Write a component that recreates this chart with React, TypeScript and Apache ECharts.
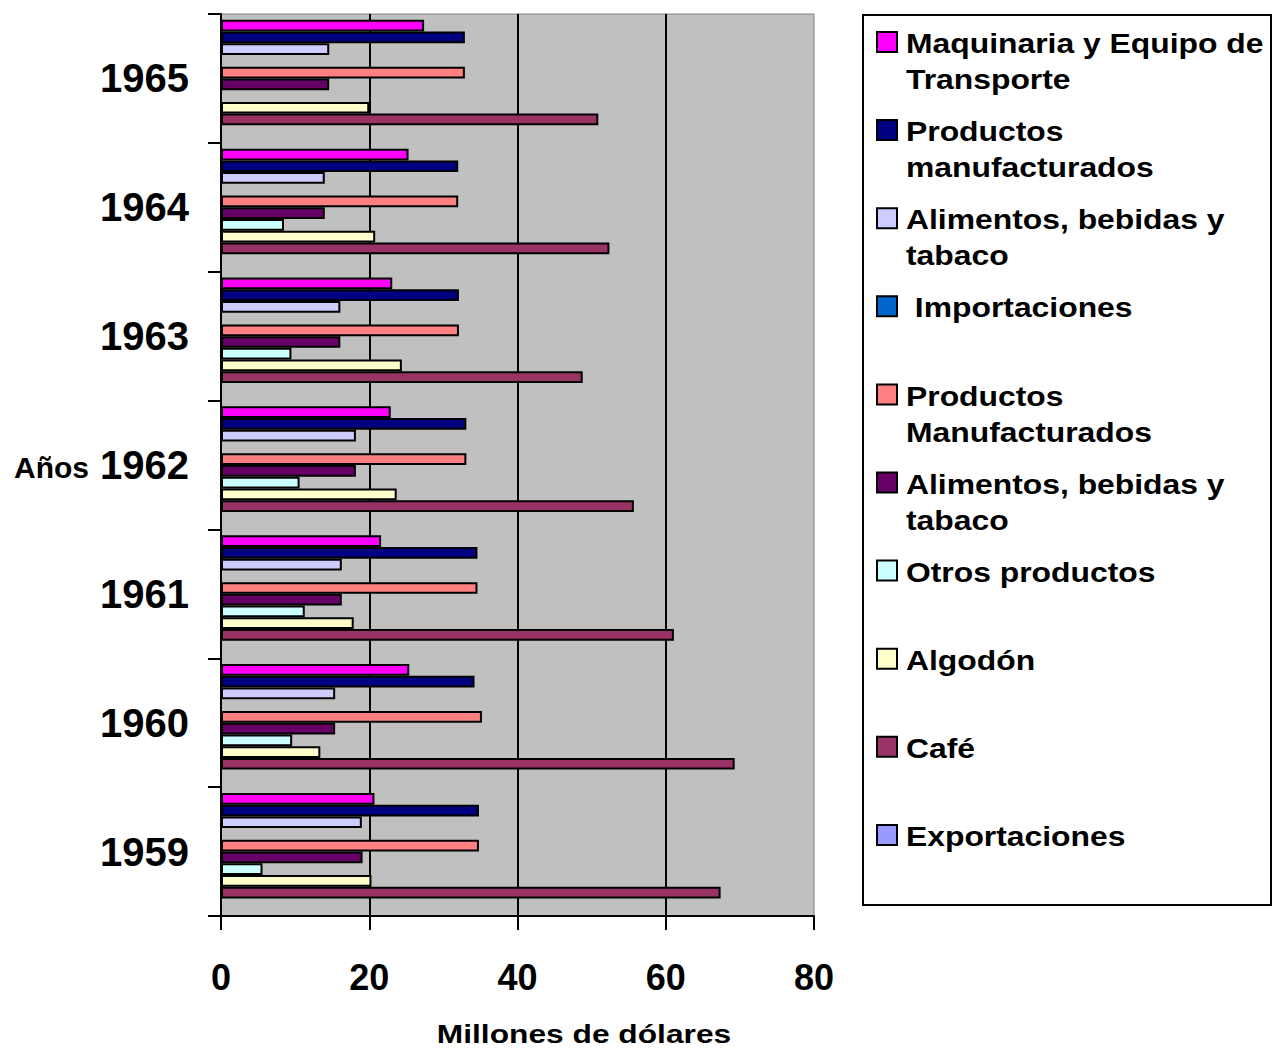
import React, { useEffect, useRef } from "react";
import * as echarts from "echarts";

// ---- data (millones de dólares) ----
const years = ["1959", "1960", "1961", "1962", "1963", "1964", "1965"];
const maquinaria = [20.7, 25.4, 21.6, 22.9, 23.1, 25.3, 27.4];
const manufImp = [34.8, 34.2, 34.6, 33.1, 32.1, 32.0, 32.9];
const alimentosImp = [19.0, 15.4, 16.3, 18.2, 16.1, 14.0, 14.6];
const importaciones = [null, null, null, null, null, null, null];
const manufExp = [34.8, 35.2, 34.6, 33.1, 32.1, 32.0, 32.9];
const alimentosExp = [19.1, 15.4, 16.3, 18.2, 16.1, 14.0, 14.6];
const otros = [5.6, 9.6, 11.3, 10.6, 9.5, 8.5, null];
const algodon = [20.3, 13.4, 17.9, 23.7, 24.4, 20.8, 20.0];
const cafe = [67.4, 69.3, 61.1, 55.7, 48.8, 52.4, 50.9];
const exportaciones = [null, null, null, null, null, null, null];

const seriesNames = [
  "Maquinaria y Equipo de Transporte",
  "Productos manufacturados",
  "Alimentos, bebidas y tabaco",
  "Importaciones",
  "Productos Manufacturados",
  "Alimentos, bebidas y tabaco ",
  "Otros productos",
  "Algodón",
  "Café",
  "Exportaciones",
];
const seriesData = [
  maquinaria, manufImp, alimentosImp, importaciones, manufExp,
  alimentosExp, otros, algodon, cafe, exportaciones,
];
const seriesColors = [
  "#FF00FF", "#000080", "#CCCCFF", "#0066CC", "#FF8080",
  "#660066", "#CCFFFF", "#FFFFCC", "#993366", "#9999FF",
];
const legendLines = [
  ["Maquinaria y Equipo de", "Transporte"],
  ["Productos", "manufacturados"],
  ["Alimentos, bebidas y", "tabaco"],
  [" Importaciones"],
  ["Productos", "Manufacturados"],
  ["Alimentos, bebidas y", "tabaco"],
  ["Otros productos"],
  ["Algodón"],
  ["Café"],
  ["Exportaciones"],
];

const FONT = "'Liberation Sans', Arial, Helvetica, sans-serif";

export default function App() {
  const ref = useRef<HTMLDivElement>(null);
  useEffect(() => {
    if (!ref.current) return;
    const chart = echarts.init(ref.current, null, { renderer: "svg" });

    const graphics: any[] = [];
    graphics.push({
      type: "rect",
      shape: { x: 863, y: 15, width: 408, height: 890 },
      style: { fill: "#fff", stroke: "#000", lineWidth: 2 },
    });
    legendLines.forEach((lines, i) => {
      const cy = 42 + i * 88.1;
      graphics.push({
        type: "rect",
        shape: { x: 877, y: cy - 10, width: 20, height: 20 },
        style: { fill: seriesColors[i], stroke: "#000", lineWidth: 2 },
      });
      lines.forEach((t, j) => {
        graphics.push({
          type: "text",
          x: 906,
          y: cy + 1.5 + j * 36,
          scaleX: 1.18,
          style: {
            text: t,
            fontSize: 27,
            fontWeight: "bold",
            fontFamily: FONT,
            fill: "#000",
            align: "left",
            verticalAlign: "middle",
          },
        });
      });
    });
    graphics.push({
      type: "text",
      x: 14,
      y: 467,
      style: {
        text: "Años",
        fontSize: 30,
        fontWeight: "bold",
        fontFamily: FONT,
        fill: "#000",
        align: "left",
        verticalAlign: "middle",
      },
    });
    graphics.push({
      type: "text",
      x: 584,
      y: 1034,
      scaleX: 1.22,
      style: {
        text: "Millones de dólares",
        fontSize: 26,
        fontWeight: "bold",
        fontFamily: FONT,
        fill: "#000",
        align: "center",
        verticalAlign: "middle",
      },
    });

    chart.setOption({
      animation: false,
      backgroundColor: "#fff",
      grid: {
        left: 221,
        right: 460,
        top: 14,
        bottom: 134,
        show: true,
        backgroundColor: "#C0C0C0",
        borderColor: "#808080",
        borderWidth: 1,
      },
      xAxis: {
        type: "value",
        min: 0,
        max: 80,
        interval: 20,
        axisLine: { show: true, lineStyle: { color: "#000", width: 2 } },
        axisTick: { show: true, length: 14, lineStyle: { color: "#000", width: 2 } },
        axisLabel: {
          margin: 43,
          fontSize: 36,
          fontWeight: "bold",
          fontFamily: FONT,
          color: "#000",
        },
        splitLine: {
          show: true,
          showMinLine: false,
          showMaxLine: false,
          lineStyle: { color: "#000", width: 2 },
        },
      },
      yAxis: {
        type: "category",
        data: years,
        axisLine: { show: true, lineStyle: { color: "#000", width: 2 } },
        axisTick: { show: true, length: 13, lineStyle: { color: "#000", width: 2 } },
        axisLabel: {
          margin: 32,
          fontSize: 40,
          fontWeight: "bold",
          fontFamily: FONT,
          color: "#000",
        },
        splitLine: { show: false },
      },
      series: seriesNames.map((name, i) => ({
        type: "bar",
        name,
        data: seriesData[i],
        barGap: "0%",
        barCategoryGap: "9%",
        itemStyle: { color: seriesColors[i], borderColor: "#000", borderWidth: 2 },
      })),
      graphic: graphics,
    });
    return () => chart.dispose();
  }, []);
  return (
    <div
      ref={ref}
      style={{ position: "fixed", left: 0, top: 0, width: 1274, height: 1050, background: "#fff" }}
    />
  );
}
